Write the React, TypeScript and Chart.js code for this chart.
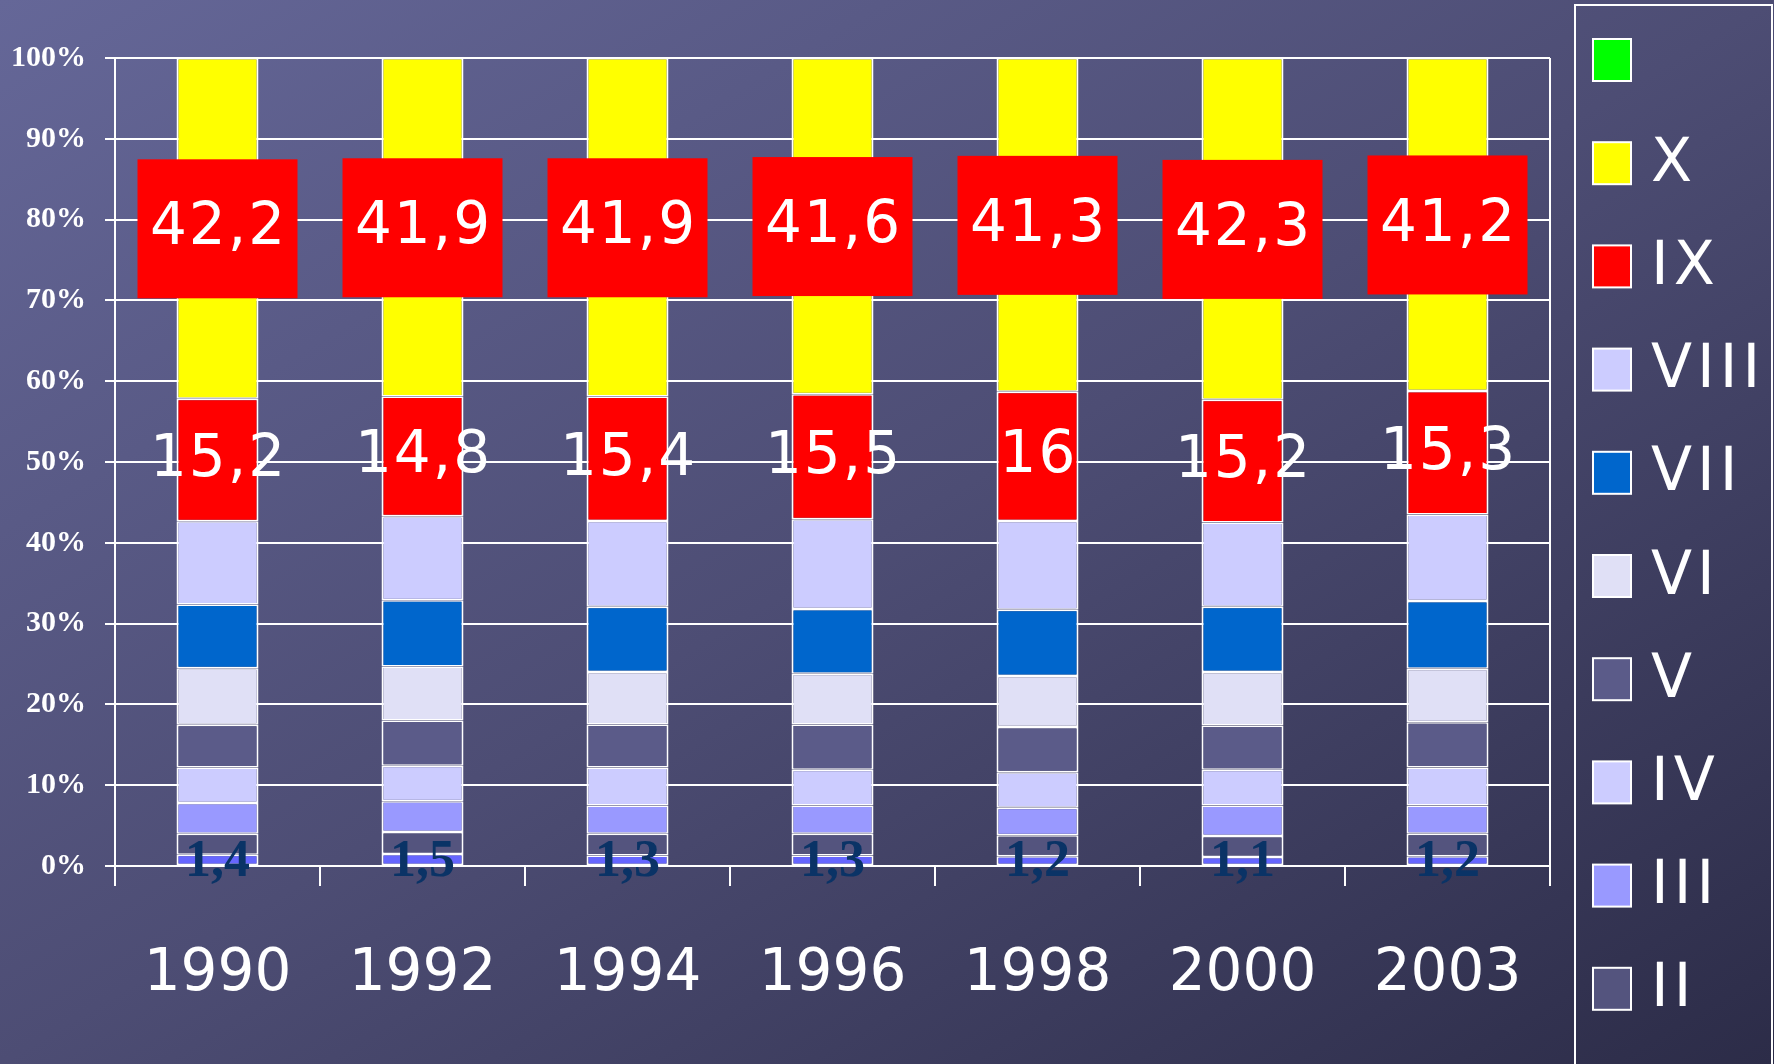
import React, { useEffect, useRef } from 'react';
import { Chart, registerables } from 'chart.js';

Chart.register(...registerables);

// ---- data ----
const YEARS = ['1990', '1992', '1994', '1996', '1998', '2000', '2003'];
const SERIES_NAMES = ['I', 'II', 'III', 'IV', 'V', 'VI', 'VII', 'VIII', 'IX', 'X', ''];
const S_I = [1.4, 1.5, 1.3, 1.3, 1.2, 1.1, 1.2];
const S_II = [2.6, 2.7, 2.7, 2.7, 2.6, 2.6, 2.8];
const S_III = [3.8, 3.8, 3.5, 3.5, 3.4, 3.8, 3.5];
const S_IV = [4.4, 4.4, 4.7, 4.4, 4.4, 4.4, 4.7];
const S_V = [5.3, 5.6, 5.3, 5.6, 5.6, 5.5, 5.6];
const S_VI = [7.0, 6.7, 6.5, 6.3, 6.3, 6.6, 6.6];
const S_VII = [7.9, 8.2, 8.1, 8.0, 8.2, 8.1, 8.4];
const S_VIII = [10.3, 10.4, 10.6, 11.1, 11.0, 10.4, 10.7];
const S_IX = [15.2, 14.8, 15.4, 15.5, 16, 15.2, 15.3];
const S_X = [42.2, 41.9, 41.9, 41.6, 41.3, 42.3, 41.2];
const S_XI = [0, 0, 0, 0, 0, 0, 0];
const SERIES = [S_I, S_II, S_III, S_IV, S_V, S_VI, S_VII, S_VIII, S_IX, S_X, S_XI];
const SERIES_COLORS = [
  '#6666ff', '#54547e', '#9999ff', '#ccccff', '#5b5b89',
  '#e0e0f6', '#0066cc', '#ccccff', '#ff0000', '#ffff00', '#00ff00',
];
const Y_MAX = 100;
const Y_STEP = 10;

const SANS = '"DejaVu Sans", "Noto Sans", sans-serif';
const SERIF = '"Liberation Serif", "Times New Roman", serif';

const fmt = (v: number) => String(v).replace('.', ',');

const backgroundPlugin = {
  id: 'bgGradient',
  beforeDraw(chart: any) {
    const { ctx, width, height } = chart;
    ctx.save();
    const g = ctx.createLinearGradient(0, 0, 938, 1564);
    g.addColorStop(0, 'rgb(101,103,152)');
    g.addColorStop(0.5, 'rgb(77,77,116)');
    g.addColorStop(1, 'rgb(44,44,72)');
    ctx.fillStyle = g;
    ctx.fillRect(0, 0, width, height);
    ctx.restore();
  },
};

const framePlugin = {
  id: 'rightFrame',
  beforeDatasetsDraw(chart: any) {
    const { ctx, chartArea } = chart;
    ctx.save();
    ctx.strokeStyle = '#ffffff';
    ctx.lineWidth = 2;
    ctx.beginPath();
    ctx.moveTo(chartArea.right, chartArea.top);
    ctx.lineTo(chartArea.right, chartArea.bottom);
    ctx.stroke();
    ctx.restore();
  },
};

const labelPlugin = {
  id: 'valueLabels',
  afterDatasetsDraw(chart: any) {
    const { ctx } = chart;
    const metaI = chart.getDatasetMeta(0);
    const metaIX = chart.getDatasetMeta(8);
    const metaX = chart.getDatasetMeta(9);
    ctx.save();
    YEARS.forEach((_, i) => {
      // X: red boxes
      const bx = metaX.data[i];
      const cxX = bx.x;
      const cyX = (bx.y + bx.base) / 2;
      ctx.fillStyle = '#ff0000';
      ctx.fillRect(cxX - 80, cyX - 69, 160, 139);
      ctx.fillStyle = '#ffffff';
      ctx.font = `58px ${SANS}`;
      (ctx as any).letterSpacing = '2px';
      ctx.textAlign = 'center';
      ctx.textBaseline = 'middle';
      ctx.fillText(fmt(S_X[i]), cxX + 1, cyX + 1);

      // IX: white text
      const b9 = metaIX.data[i];
      ctx.fillText(fmt(S_IX[i]), b9.x + 1, (b9.y + b9.base) / 2 + 1);

      // I: navy bold serif at the base
      const b1 = metaI.data[i];
      (ctx as any).letterSpacing = '0px';
      ctx.font = `bold 52px ${SERIF}`;
      ctx.fillStyle = '#0a3366';
      ctx.textBaseline = 'alphabetic';
      ctx.fillText(fmt(S_I[i]), b1.x, b1.base + 11);
    });
    ctx.restore();
  },
};

const legendPlugin = {
  id: 'customLegend',
  afterDraw(chart: any) {
    const { ctx, chartArea } = chart;
    const left = chartArea.right + 25;
    ctx.save();
    ctx.strokeStyle = '#ffffff';
    ctx.lineWidth = 2;
    ctx.strokeRect(left, 5, 197, 1200);
    const ds = chart.data.datasets.slice().reverse();
    ds.forEach((d: any, k: number) => {
      const cy = 60 + k * 103.2;
      ctx.fillStyle = d.backgroundColor;
      ctx.fillRect(left + 18, cy - 21, 38, 42);
      ctx.strokeStyle = '#ffffff';
      ctx.lineWidth = 2;
      ctx.strokeRect(left + 18, cy - 21, 38, 42);
      ctx.fillStyle = '#ffffff';
      ctx.font = `60px ${SANS}`;
      (ctx as any).letterSpacing = '5px';
      ctx.textAlign = 'left';
      ctx.textBaseline = 'middle';
      ctx.fillText(d.label, left + 76, cy + 2);
    });
    ctx.restore();
  },
};

export default function App() {
  const ref = useRef<HTMLCanvasElement | null>(null);

  useEffect(() => {
    document.body.style.margin = '0';
    document.body.style.overflow = 'hidden';
    const canvas = ref.current;
    if (!canvas) return;
    const totals = YEARS.map((_, i) => SERIES.reduce((s, arr) => s + arr[i], 0));
    const datasets = SERIES.map((vals, k) => ({
      label: SERIES_NAMES[k],
      data: vals.map((v, i) => (v / totals[i]) * Y_MAX),
      backgroundColor: SERIES_COLORS[k],
      borderColor: '#ffffff',
      borderWidth: k === SERIES.length - 1 ? 0 : { top: 1.5, bottom: 1.5, left: 2, right: 2 },
      borderSkipped: false,
      barPercentage: 0.4,
      categoryPercentage: 1.0,
    }));

    const chart = new Chart(canvas, {
      type: 'bar',
      data: { labels: YEARS, datasets },
      options: {
        responsive: false,
        animation: false,
        devicePixelRatio: 1,
        layout: { padding: { left: 0, top: 58, right: 224, bottom: 0 } },
        plugins: {
          legend: { display: false },
          tooltip: { enabled: false },
        },
        scales: {
          x: {
            stacked: true,
            grid: {
              display: true,
              drawOnChartArea: false,
              drawTicks: true,
              tickLength: 20,
              color: '#ffffff',
              lineWidth: 2,
              offset: true,
            },
            border: { display: true, color: '#ffffff', width: 2 },
            ticks: {
              color: '#ffffff',
              font: { family: SANS, size: 58 },
              padding: 54,
              maxRotation: 0,
            },
            afterFit(scale: any) {
              scale.height = 198;
            },
          },
          y: {
            stacked: true,
            min: 0,
            max: Y_MAX,
            grid: {
              color: '#ffffff',
              lineWidth: 2,
              tickLength: 10,
              drawTicks: true,
            },
            border: { display: true, color: '#ffffff', width: 2 },
            ticks: {
              stepSize: Y_STEP,
              color: '#ffffff',
              font: { family: SERIF, size: 30, weight: 'bold' },
              padding: 19,
              callback: (v: any) => `${v}%`,
            },
            afterFit(scale: any) {
              scale.width = 115;
            },
          },
        },
      },
      plugins: [backgroundPlugin, framePlugin, labelPlugin, legendPlugin],
    } as any);

    return () => chart.destroy();
  }, []);

  return (
    <div style={{ width: 1774, height: 1064 }}>
      <canvas ref={ref} width={1774} height={1064} style={{ display: 'block' }} />
    </div>
  );
}
